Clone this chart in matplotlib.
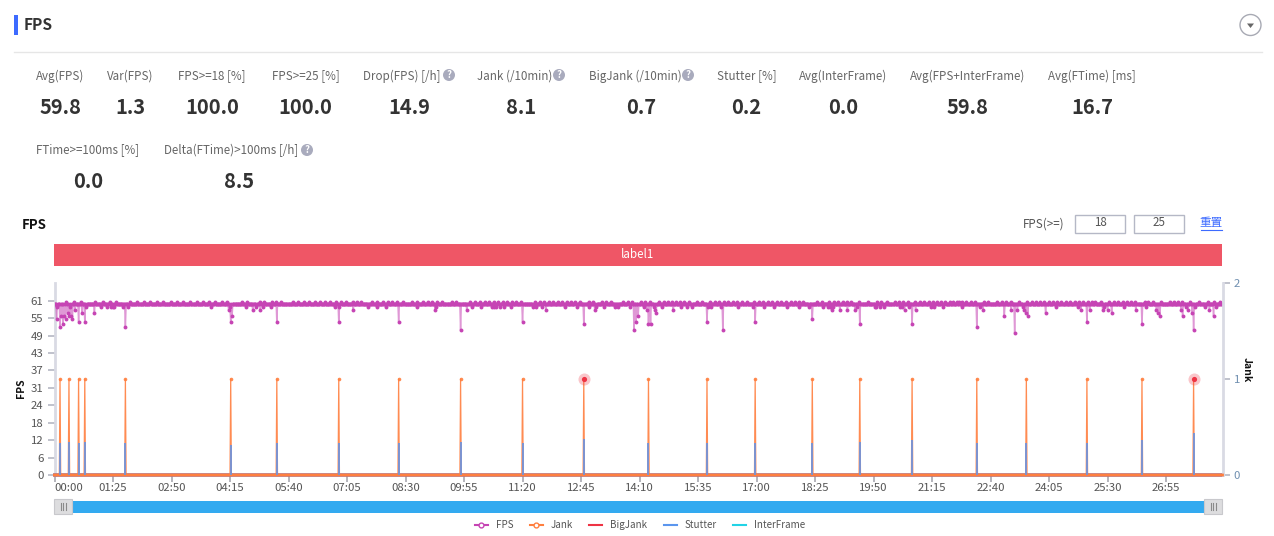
import numpy as np
import matplotlib
matplotlib.use('Agg')
import matplotlib.pyplot as plt
from matplotlib.patches import Rectangle, Circle, Polygon

plt.rcParams['font.family'] = ['Noto Sans CJK SC', 'DejaVu Sans']

W, H = 1274, 536

# header stats: label, value
stats_row1 = ['Avg(FPS)', 'Var(FPS)', 'FPS>=18 [%]', 'FPS>=25 [%]', 'Drop(FPS) [/h]', 'Jank (/10min)',
              'BigJank (/10min)', 'Stutter [%]', 'Avg(InterFrame)', 'Avg(FPS+InterFrame)', 'Avg(FTime) [ms]']
values_row1 = ['59.8', '1.3', '100.0', '100.0', '14.9', '8.1', '0.7', '0.2', '0.0', '59.8', '16.7']
stats_row2 = ['FTime>=100ms [%]', 'Delta(FTime)>100ms [/h]']
values_row2 = ['0.0', '8.5']

# FPS sits just under 60 for most of the run, these are the seconds where it leaves that level
fps_normal = 59.7
fps_peak = 60.7
fps_peak_sec = [17, 28, 38, 59, 70, 80, 90, 110, 120, 130, 139, 149, 158, 169, 178, 187, 197, 207, 216, 224,
                233, 243, 250, 272, 280, 298, 305, 316, 322, 329, 346, 354, 363, 370, 379, 386, 393, 401, 409,
                416, 424, 433, 439, 446, 461, 469, 477, 484, 491, 498, 506, 520, 527, 535, 542, 549, 556, 563,
                577, 584, 604, 611, 618, 625, 631, 638, 645, 652, 658, 665, 671, 678, 698, 705, 711, 718, 724,
                731, 738, 744, 750, 756, 763, 776, 782, 795, 801, 808, 826, 833, 839, 852, 858, 865, 878, 885,
                891, 897, 903, 909, 915, 922, 934, 941, 953, 960, 966, 973, 979, 986, 992, 999, 1006, 1017,
                1024, 1030, 1037, 1043, 1050, 1056, 1063, 1070, 1076, 1082, 1088, 1108, 1115, 1126, 1132,
                1138, 1145, 1151, 1157, 1169, 1182, 1195, 1201, 1209, 1221, 1227, 1233, 1240, 1250, 1257,
                1263, 1270, 1276, 1282, 1288, 1294, 1301, 1306, 1314, 1311, 1318, 1325, 1332, 1338, 1351,
                1357, 1369, 1376, 1382, 1389, 1402, 1413, 1420, 1426, 1432, 1438, 1445, 1451, 1457, 1463,
                1470, 1476, 1482, 1488, 1494, 1501, 1507, 1512, 1520, 1525, 1532, 1539, 1545, 1552, 1558,
                1564, 1570, 1584, 1589, 1596, 1601, 1608, 1620, 1626, 1632, 1638, 1644, 1650, 1663, 1676,
                1685, 1693]
fps_dip_sec = [3, 4, 8, 10, 12, 14, 16, 19, 21, 23, 24, 26, 30, 35, 40, 44, 46, 58, 67, 77, 82, 85, 87, 100,
               103, 107, 228, 253, 255, 256, 258, 278, 288, 293, 299, 303, 314, 323,
               407, 413, 414, 434, 456, 468, 481, 500, 526, 553, 555, 590, 599, 606, 620, 635, 639, 642, 647,
               653, 663, 680, 695, 700, 708, 714, 741, 759, 769, 777, 785, 787, 798, 814, 818, 836, 842, 845,
               848, 856, 861, 863, 866, 871, 873, 874, 882, 899, 910, 919, 926, 948, 950, 954, 968, 971, 993,
               1015, 1018, 1031, 1045, 1064, 1081, 1096, 1101, 1116, 1124, 1127, 1129, 1131, 1141, 1152, 1163,
               1166, 1170, 1192, 1194, 1200, 1205, 1229, 1232, 1235, 1241, 1246, 1251, 1273, 1278, 1291,
               1319, 1340, 1344, 1349, 1380, 1390, 1395, 1399, 1407, 1409, 1412, 1414, 1440, 1455, 1487, 1491,
               1500, 1504, 1523, 1525, 1530, 1536, 1554, 1571, 1580, 1586, 1601, 1604, 1606, 1637, 1639, 1644,
               1647, 1653, 1655, 1657, 1671, 1678, 1684, 1688]
fps_dip_val = [54.7, 58.7, 51.7, 55.7, 52.7, 55.7, 54.7, 56.7, 55.7, 58.7, 55.7, 54.7, 57.7, 53.7, 56.7, 53.7,
               58.7, 56.7, 58.7, 58.7, 58.7, 58.7, 58.7, 58.7, 51.7, 58.7, 58.7, 57.7, 58.7, 53.7, 55.7, 58.7,
               57.7, 58.7, 57.7, 58.7, 58.7, 53.7,
               58.7, 53.7, 58.7, 57.7, 58.7, 58.7, 58.7, 53.7, 58.7, 57.7, 58.7, 50.7, 57.7, 58.7, 58.7, 58.7,
               58.7, 58.7, 58.7, 58.7, 58.7, 53.7, 58.7, 58.7, 58.7, 57.7, 58.7, 58.7, 52.7, 58.7, 57.7, 58.7,
               58.7, 58.7, 58.7, 58.7, 50.7, 53.7, 55.7, 58.7, 57.7, 52.7, 52.7, 58.7, 57.7, 56.7, 58.7, 57.7,
               58.7, 58.7, 58.7, 53.7, 58.7, 58.7, 58.7, 50.7, 58.7, 58.7, 53.7, 58.7, 58.7, 58.7, 58.7, 58.7,
               54.7, 58.7, 58.7, 58.7, 57.7, 58.7, 57.7, 57.7, 57.7, 58.7, 52.7, 58.7, 58.7, 58.7, 58.7, 58.7,
               58.7, 57.7, 58.7, 52.7, 57.7, 58.7, 58.7, 58.7,
               58.7, 51.7, 58.7, 57.7, 55.7, 57.7, 49.7, 57.7, 58.7, 57.7, 56.7, 55.7, 56.7, 58.7, 58.7, 57.7,
               53.7, 57.7, 57.7, 58.7, 57.7, 56.7, 58.7, 57.7, 52.7, 58.7, 57.7, 56.7, 55.7, 57.7, 55.7, 58.7,
               57.7, 56.7, 50.7, 58.7, 58.7, 57.7, 55.7, 58.7]

duration = 1697

# jank spikes, seconds and the height of the stutter bar at each one
jank_sec = [8, 21, 35, 44, 103, 256, 323, 413, 500, 590, 680, 769, 863, 948, 1018, 1101, 1170, 1246, 1340,
            1412, 1500, 1580, 1655]
stutter_val = [0.335, 0.34, 0.335, 0.34, 0.335, 0.31, 0.335, 0.335, 0.335, 0.34, 0.335, 0.38, 0.335, 0.335,
               0.335, 0.335, 0.34, 0.365, 0.335, 0.335, 0.335, 0.36, 0.44]
bigjank_sec = [769, 1655]

yticks_left = [0, 6.1, 12.2, 18.3, 24.4, 30.5, 36.6, 42.7, 48.8, 54.9, 61]
ylabels_left = ['0', '6', '12', '18', '24', '31', '37', '43', '49', '55', '61']
xticks_sec = [0, 85, 170, 255, 340, 425, 510, 595, 680, 765, 850, 935, 1020, 1105, 1190, 1275, 1360, 1445, 1530, 1615]
xlabels = ['00:00', '01:25', '02:50', '04:15', '05:40', '07:05', '08:30', '09:55', '11:20', '12:45', '14:10',
           '15:35', '17:00', '18:25', '19:50', '21:15', '22:40', '24:05', '25:30', '26:55']

c_fps = '#c644b4'
c_jank = '#ff7f3f'
c_big = '#ee3344'
c_stutter = '#5b96ee'
c_inter = '#22d3e6'
c_axis = '#d9dae4'

# build series
t = np.arange(duration + 1)
fps = np.full(duration + 1, fps_normal)
fps[fps_peak_sec] = fps_peak
fps[fps_dip_sec] = fps_dip_val
jank = np.zeros(duration + 1)
jank[jank_sec] = 1
bigjank = np.zeros(duration + 1)
stutter = np.zeros(duration + 1)
interframe = np.zeros(duration + 1)

fig = plt.figure(figsize=(W / 100, H / 100), dpi=100, facecolor='white')

# page furniture is drawn in pixel coordinates on a full size axes
bg = fig.add_axes([0, 0, 1, 1])
bg.set_xlim(0, W)
bg.set_ylim(H, 0)
bg.axis('off')


def label(x, y, s, size=8.35, color='#666666', weight='normal', ha='center'):
    bg.text(x, y, s, fontsize=size, color=color, fontweight=weight, ha=ha, va='center')


def help_icon(x, y):
    bg.add_patch(Circle((x, y), 6, color='#a9abbd', lw=0))
    bg.text(x, y, '?', fontsize=7, color='white', fontweight='bold', ha='center', va='center')


# title row
bg.add_patch(Rectangle((14, 15), 3.5, 20, color='#3d6bff', lw=0))
label(24, 25, 'FPS', size=11.2, color='#333333', weight='bold', ha='left')
bg.plot([14, 1262], [51.5, 51.5], color='#e6e6e6', lw=1)
bg.add_patch(Circle((1250.5, 25), 10.5, fc='white', ec='#a8aab4', lw=1))
bg.add_patch(Polygon([[1247, 23.5], [1254, 23.5], [1250.5, 28]], color='#666666', lw=0))

# stats
label_x = [60, 130, 211.5, 305.5, 402, 515, 635, 746.5, 843, 967.5, 1092]
value_x = [60, 130, 212, 305, 409, 521, 641, 746, 843, 967, 1092]
for s, v, lx, vx in zip(stats_row1, values_row1, label_x, value_x):
    label(lx, 76, s)
    label(vx, 108, v, size=14.5, color='#333333', weight='bold')
help_icon(449, 75)
help_icon(559, 75)
help_icon(688, 75)

label_x2 = [88, 231.5]
value_x2 = [88, 239]
for s, v, lx, vx in zip(stats_row2, values_row2, label_x2, value_x2):
    label(lx, 150, s)
    label(vx, 182, v, size=14.5, color='#333333', weight='bold')
help_icon(307, 150)

# chart title and threshold inputs
label(22, 225, 'FPS', size=9.5, color='#111111', weight='bold', ha='left')
label(1023, 224, 'FPS(>=)', color='#555555', ha='left')
for x0, s in zip([1075, 1134], ['18', '25']):
    bg.add_patch(Rectangle((x0, 214.5), 50, 18, fc='white', ec='#b5b8c6', lw=1))
    label(x0 + 25, 223, s, color='#555555')
label(1211.5, 222.5, '重置', color='#3d6bff')
bg.plot([1201, 1222], [230, 230], color='#3d6bff', lw=0.8)

# label band
bg.add_patch(Rectangle((54, 244), 1168, 22, color='#ef5666', lw=0))
label(638, 255, 'label1', color='white')

# slider under the chart
bg.add_patch(Rectangle((64, 501), 1148, 12, color='#33aaf0', lw=0))
for x0 in [54, 1204]:
    bg.add_patch(Rectangle((x0, 498.5), 18, 15.5, fc='#dddddf', ec='#c8c8cc', lw=0.8))
    for dx in [6.5, 9, 11.5]:
        bg.plot([x0 + dx, x0 + dx], [502.5, 509.5], color='#8a8a8a', lw=0.8)

# main chart
left, right, top, bottom = 54.5, 1222.5, 283, 475
ax = fig.add_axes([left / W, 1 - bottom / H, (right - left) / W, (bottom - top) / H])
ax.patch.set_alpha(0)
ax.plot(t, fps, color=c_fps, lw=1.1, alpha=0.55, zorder=3)
ax.plot(t, fps, color=c_fps, lw=0, marker='o', ms=2.8, mew=0, zorder=4)
ax.set_xlim(0, duration)
ax.set_ylim(0, 67.2)
ax.set_yticks(yticks_left)
ax.set_yticklabels(ylabels_left)
ax.set_xticks(xticks_sec)
ax.set_xticklabels(xlabels)
ax.get_xticklabels()[0].set_ha('left')
ax.tick_params(axis='y', length=5, width=1.2, color='#b5b7c4', labelsize=8.2, labelcolor='#555555', pad=3)
ax.tick_params(axis='x', length=5, width=1.2, color='#a8a8b0', labelsize=8.2, labelcolor='#555555', pad=1)
ax.set_ylabel('FPS', fontsize=7.5, fontweight='bold', color='#111111', labelpad=0)
ax.yaxis.set_label_coords(-0.0245, 0.45)
for side in ['top', 'right']:
    ax.spines[side].set_visible(False)
ax.spines['left'].set_color(c_axis)
ax.spines['left'].set_linewidth(2)
ax.spines['bottom'].set_color('#b0b0b8')
ax.spines['bottom'].set_linewidth(1.5)

ax2 = ax.twinx()
ax2.patch.set_alpha(0)
ax2.plot(t, interframe, color=c_inter, lw=2, clip_on=False, zorder=2)
ax2.plot(t, stutter, color=c_stutter, lw=2, clip_on=False, zorder=2)
ax2.plot(t, bigjank, color=c_big, lw=2, clip_on=False, zorder=2)
ax2.plot(t, jank, color=c_jank, lw=0.9, alpha=0.9, marker='o', ms=2.6, mew=0, markevery=jank_sec,
         clip_on=False, zorder=3)
ax2.plot(t, bigjank, color=c_jank, lw=2, clip_on=False, zorder=3)
ax2.vlines(jank_sec, 0, stutter_val, color='#6f93dc', lw=1.3, zorder=4)
ax2.scatter(bigjank_sec, [1] * len(bigjank_sec), s=75, color=c_big, alpha=0.28, linewidths=0, zorder=5)
ax2.scatter(bigjank_sec, [1] * len(bigjank_sec), s=14, color=c_big, linewidths=0, zorder=6)
ax2.set_ylim(0, 2)
ax2.set_yticks([0, 1, 2])
ax2.tick_params(axis='y', length=5, width=1.2, color='#b5b7c4', labelsize=8.2, labelcolor='#6f8fb0', pad=3)
ax2.set_ylabel('Jank', fontsize=7.5, fontweight='bold', color='#111111', rotation=-90, labelpad=0)
ax2.yaxis.set_label_coords(1.025, 0.55)
for side in ['top', 'left', 'bottom']:
    ax2.spines[side].set_visible(False)
ax2.spines['right'].set_color(c_axis)
ax2.spines['right'].set_linewidth(2)

# legend
handles = [
    plt.Line2D([], [], color=c_fps, lw=1.5, marker='o', ms=3.5, mfc='white', mew=1),
    plt.Line2D([], [], color=c_jank, lw=1.5, marker='o', ms=3.5, mfc='white', mew=1),
    plt.Line2D([], [], color=c_big, lw=1.5),
    plt.Line2D([], [], color=c_stutter, lw=1.5),
    plt.Line2D([], [], color=c_inter, lw=1.5),
]
fig.legend(handles, ['FPS', 'Jank', 'BigJank', 'Stutter', 'InterFrame'], ncol=5, frameon=False,
           loc='center', bbox_to_anchor=(640 / W, 1 - 525 / H), fontsize=7.1, handlelength=1.32,
           handletextpad=0.81, columnspacing=1.67, labelcolor='#555555', borderpad=0)

plt.savefig('out.png', dpi=100)
